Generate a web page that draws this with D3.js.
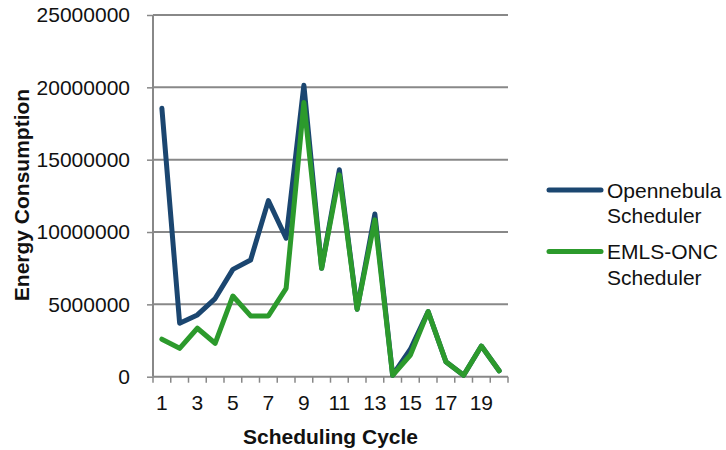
<!DOCTYPE html>
<html>
<head>
<meta charset="utf-8">
<script src="https://cdn.jsdelivr.net/npm/d3@7"></script>
<style>
  html, body { margin: 0; padding: 0; background: #fff; }
  svg { display: block; font-family: "Liberation Sans", Arial, sans-serif; }
</style>
</head>
<body>
<svg id="chart" width="726" height="450"></svg>
<script>
// Scheduling cycles and energy consumption per scheduler
const cycles = d3.range(1, 21);
const opennebula = [18550000, 3700000, 4270000, 5400000, 7420000, 8070000, 12170000, 9570000,
  20150000, 7500000, 14300000, 4660000, 11250000, 100000, 1900000, 4500000, 1040000, 100000, 2120000, 410000];
const emlsOnc = [2590000, 1960000, 3350000, 2310000, 5580000, 4200000, 4200000, 6110000,
  18950000, 7500000, 13950000, 4660000, 10840000, 100000, 1500000, 4500000, 1040000, 100000, 2120000, 410000];
const yTicks = [0, 5000000, 10000000, 15000000, 20000000, 25000000];
const xTickLabels = [1, 3, 5, 7, 9, 11, 13, 15, 17, 19];
const seriesNames = [["Opennebula", "Scheduler"], ["EMLS-ONC", "Scheduler"]];
const seriesColors = ["#1b4670", "#2c9a2c"];

const svg = d3.select("#chart");
const plotLeft = 153, plotRight = 508, plotTop = 15, plotBottom = 376.7;
const axisColor = "#888888";
const fontSize = 21;

const x = d3.scaleBand().domain(cycles).range([plotLeft, plotRight]).padding(0);
const y = d3.scaleLinear().domain([0, 25000000]).range([plotBottom, plotTop]);

// Horizontal gridlines
svg.append("g").selectAll("line").data(yTicks.filter(d => d > 0)).join("line")
  .attr("x1", plotLeft).attr("x2", plotRight)
  .attr("y1", d => y(d)).attr("y2", d => y(d))
  .attr("stroke", axisColor).attr("stroke-width", 2);

// Y axis
const yAxis = svg.append("g").attr("transform", `translate(${plotLeft},0)`)
  .call(d3.axisLeft(y).tickValues(yTicks).tickFormat(d3.format("d")).tickSize(6).tickPadding(17));
yAxis.select(".domain").attr("stroke", axisColor).attr("stroke-width", 2).attr("d", `M0,${plotTop}V${plotBottom}`);
yAxis.selectAll(".tick line").attr("stroke", axisColor).attr("stroke-width", 1.5);
yAxis.selectAll(".tick text").attr("font-size", fontSize).attr("fill", "#111").attr("font-family", "Liberation Sans, Arial, sans-serif");

// X axis: boundary tick marks between categories, labels on odd cycles
const xAxisG = svg.append("g").attr("transform", `translate(0,${plotBottom})`);
xAxisG.append("line").attr("x1", plotLeft).attr("x2", plotRight).attr("y1", 0).attr("y2", 0)
  .attr("stroke", axisColor).attr("stroke-width", 2);
const bounds = cycles.map(c => x(c)).concat([x(cycles[cycles.length - 1]) + x.bandwidth()]);
xAxisG.selectAll("line.tk").data(bounds).join("line").attr("class", "tk")
  .attr("x1", d => d).attr("x2", d => d).attr("y1", 0).attr("y2", 6)
  .attr("stroke", axisColor).attr("stroke-width", 1.5);
xAxisG.selectAll("text").data(xTickLabels).join("text")
  .attr("x", d => x(d) + x.bandwidth() / 2).attr("y", 33.5)
  .attr("text-anchor", "middle").attr("font-size", fontSize).attr("fill", "#111")
  .text(d => d);

// Axis titles
svg.append("text").attr("x", (plotLeft + plotRight) / 2).attr("y", 443.5)
  .attr("text-anchor", "middle").attr("font-size", fontSize).attr("font-weight", "bold").attr("fill", "#111")
  .text("Scheduling Cycle");
svg.append("text").attr("transform", `translate(29,195) rotate(-90)`)
  .attr("text-anchor", "middle").attr("font-size", fontSize).attr("font-weight", "bold").attr("fill", "#111")
  .text("Energy Consumption");

// Series lines
const line = d3.line().x((d, i) => x(cycles[i]) + x.bandwidth() / 2).y(d => y(d));
[opennebula, emlsOnc].forEach((vals, i) => {
  svg.append("path").datum(vals).attr("d", line)
    .attr("fill", "none").attr("stroke", seriesColors[i]).attr("stroke-width", 5)
    .attr("stroke-linejoin", "round").attr("stroke-linecap", "round");
});

// Legend
const legendRows = [190, 251.5];
seriesNames.forEach((names, i) => {
  const g = svg.append("g");
  g.append("line").attr("x1", 549).attr("x2", 601)
    .attr("y1", legendRows[i]).attr("y2", legendRows[i])
    .attr("stroke", seriesColors[i]).attr("stroke-width", 5).attr("stroke-linecap", "round");
  names.forEach((t, k) => {
    g.append("text").attr("x", 607).attr("y", legendRows[i] + 7.5 + k * 25.5)
      .attr("font-size", fontSize).attr("fill", "#111").text(t);
  });
});
</script>
</body>
</html>
